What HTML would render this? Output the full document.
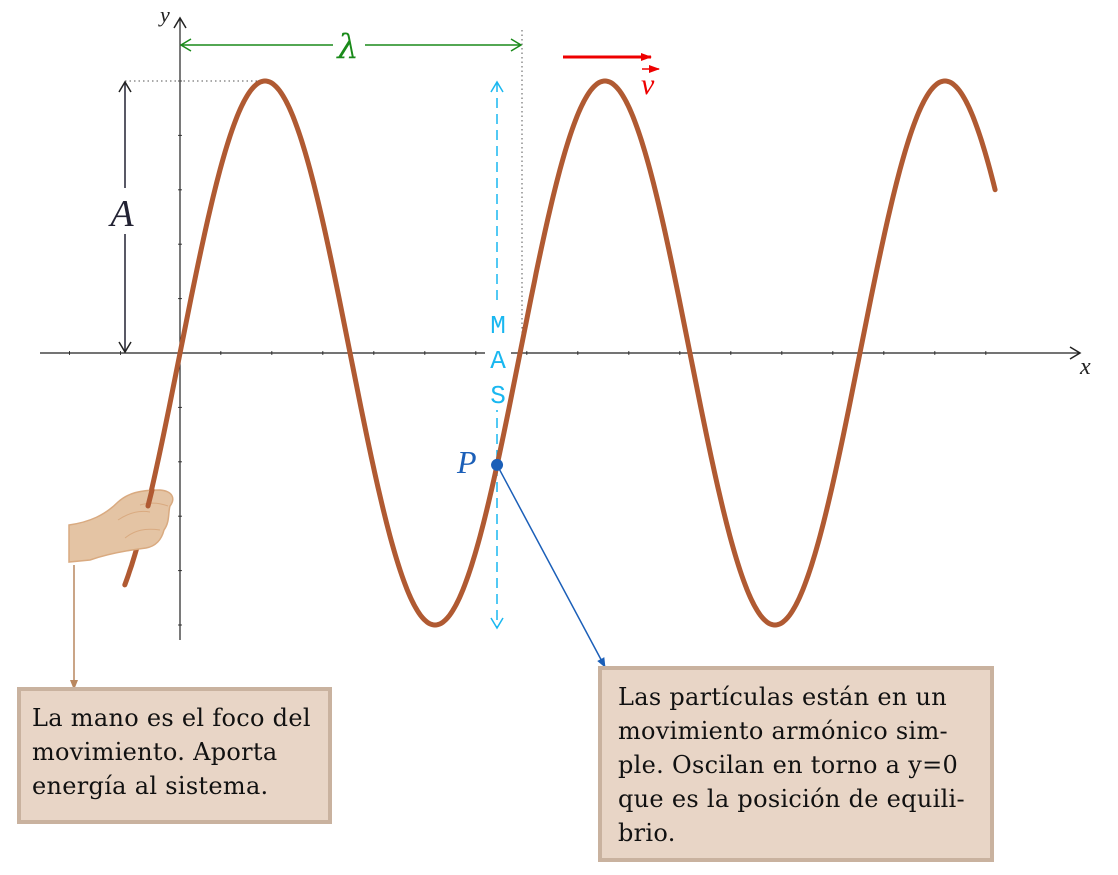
<!DOCTYPE html>
<html><head><meta charset="utf-8"><style>
body{margin:0;background:#fff;width:1118px;height:875px;overflow:hidden;position:relative}
.box{position:absolute;background:#e8d5c6;border:4px solid #c9b29f;box-sizing:border-box;font-family:"DejaVu Serif","Liberation Serif",serif;font-size:24px;letter-spacing:0.3px;line-height:34px;color:#111;padding:10px 11px;white-space:nowrap}
</style></head><body>
<svg width="1118" height="875" style="position:absolute;left:0;top:0">
<defs>
<marker id="ak" markerUnits="userSpaceOnUse" markerWidth="14" markerHeight="14" refX="12" refY="7" orient="auto-start-reverse"><path d="M2,1 L12,7 L2,13" fill="none" stroke="#222" stroke-width="1.5"/></marker>
<marker id="ag" markerUnits="userSpaceOnUse" markerWidth="14" markerHeight="14" refX="12" refY="7" orient="auto-start-reverse"><path d="M2,1 L12,7 L2,13" fill="none" stroke="#1a8a1a" stroke-width="1.5"/></marker>
<marker id="ac" markerUnits="userSpaceOnUse" markerWidth="14" markerHeight="14" refX="12" refY="7" orient="auto-start-reverse"><path d="M2,1 L12,7 L2,13" fill="none" stroke="#19b7f0" stroke-width="1.5"/></marker>
<marker id="ab" markerUnits="userSpaceOnUse" markerWidth="10" markerHeight="10" refX="9" refY="5" orient="auto"><path d="M0,1 L10,5 L0,9 z" fill="#1b5fb8"/></marker>
<marker id="abr" markerUnits="userSpaceOnUse" markerWidth="10" markerHeight="10" refX="9" refY="5" orient="auto"><path d="M0,1 L10,5 L0,9 z" fill="#b9875f"/></marker>
<marker id="ar" markerUnits="userSpaceOnUse" markerWidth="12" markerHeight="12" refX="10" refY="6" orient="auto"><path d="M0,2 L11,6 L0,10 z" fill="#e00"/></marker>
</defs>
<g id="ticks"></g>
<line x1="40" y1="353" x2="1080" y2="353" stroke="#222" stroke-width="1.2" marker-end="url(#ak)"/>
<line x1="180" y1="640" x2="180" y2="18" stroke="#222" stroke-width="1.2" marker-end="url(#ak)"/>
<text x="1080" y="374" font-family="Liberation Serif" font-style="italic" font-size="24" fill="#222">x</text>
<text x="160" y="22" font-family="Liberation Serif" font-style="italic" font-size="22" fill="#222">y</text>
<line x1="125" y1="81" x2="265" y2="81" stroke="#555" stroke-dasharray="1.5,3"/>
<line x1="522" y1="30" x2="522" y2="353" stroke="#555" stroke-dasharray="1.5,3"/>
<line x1="181" y1="45" x2="521" y2="45" stroke="#1a8a1a" stroke-width="1.5" marker-start="url(#ag)" marker-end="url(#ag)"/>
<rect x="333" y="28" width="32" height="34" fill="#fff"/>
<text x="348" y="58" text-anchor="middle" font-family="DejaVu Serif" font-style="italic" font-size="34" fill="#1a8a1a">λ</text>
<line x1="125" y1="82" x2="125" y2="352" stroke="#222233" stroke-width="1.5" marker-start="url(#ak)" marker-end="url(#ak)"/>
<rect x="105" y="188" width="40" height="46" fill="#fff"/>
<text x="122" y="226" text-anchor="middle" font-family="Liberation Serif" font-style="italic" font-size="38" fill="#222233">A</text>
<line x1="497" y1="82" x2="497" y2="628" stroke="#19b7f0" stroke-width="1.5" stroke-dasharray="10,6" marker-start="url(#ac)" marker-end="url(#ac)"/>
<rect x="485" y="305" width="26" height="105" fill="#fff"/>
<g font-family="Liberation Mono" font-size="26" fill="#19b7f0" text-anchor="middle"><text x="498" y="333">M</text><text x="498" y="368">A</text><text x="498" y="403">S</text></g>
<line x1="563" y1="57" x2="651" y2="57" stroke="#e00" stroke-width="3" marker-end="url(#ar)"/>
<text x="641" y="94" font-family="Liberation Serif" font-style="italic" font-size="30" fill="#e00">v</text>
<line x1="642" y1="69" x2="659" y2="69" stroke="#e00" stroke-width="1.5" marker-end="url(#ar)"/>
<path id="wave" fill="none" stroke="#b05a32" stroke-width="5" stroke-linecap="round"/>
<g>
<path d="M69,525 C90,522 105,515 118,502 C128,493 140,490 160,490 C172,491 176,498 170,506 C168,512 170,522 164,530 C162,538 157,546 146,548 C130,550 110,553 90,560 L69,562 Z" fill="#e4c4a4" stroke="#d9aa80" stroke-width="1.5"/>
<path d="M118,520 C130,512 140,510 150,512 M125,538 C135,530 145,528 160,530 M140,505 C150,502 160,503 168,506" fill="none" stroke="#d9aa80" stroke-width="1"/>
</g>
<path d="M152,490 L148,506" stroke="#b05a32" stroke-width="5" stroke-linecap="round" fill="none"/>
<line x1="74" y1="565" x2="74" y2="689" stroke="#b9875f" stroke-width="1.5" marker-end="url(#abr)"/>
<line id="pline" stroke="#1b5fb8" stroke-width="1.5" marker-end="url(#ab)"/>
<circle id="pdot" r="6" fill="#1b5fb8"/>
<text id="plabel" font-family="Liberation Serif" font-style="italic" font-size="32" fill="#1b5fb8">P</text>
</svg>
<div class="box" style="left:17px;top:687px;width:315px;height:137px">La mano es el foco del<br>movimiento. Aporta<br>energía al sistema.</div>
<div class="box" style="left:598px;top:666px;width:396px;height:196px;padding:10px 16px">Las partículas están en un<br>movimiento armónico sim-<br>ple. Oscilan en torno a y=0<br>que es la posición de equili-<br>brio.</div>
<script>
const amplitude=[1];
const wavelength=[4];
const xRange=[-0.65,9.6];
const particleX=[3.73];
const xTickVals=[-1.3,-0.7,0.48,1.08,1.68,2.28,2.88,3.48,4.08,4.68,5.28,5.88,6.48,7.08,7.68,8.28,8.88,9.48];
const yTickVals=[-1,-0.8,-0.6,-0.4,-0.2,0.2,0.4,0.6,0.8,1];
const X=v=>180+v*85, Y=v=>353-v*272;
const f=x=>amplitude[0]*Math.sin(2*Math.PI*x/wavelength[0]);
let d="";
for(let x=xRange[0];x<=xRange[1]+1e-9;x+=0.02){d+=(d?"L":"M")+X(x).toFixed(1)+","+Y(f(x)).toFixed(1);}
document.getElementById('wave').setAttribute('d',d);
const g=document.getElementById('ticks');
xTickVals.forEach(v=>{const l=document.createElementNS("http://www.w3.org/2000/svg","line");


l.setAttribute('x1',X(v));l.setAttribute('x2',X(v));l.setAttribute('y1',351);l.setAttribute('y2',355);l.setAttribute('stroke','#444');g.appendChild(l);});
yTickVals.forEach(v=>{const l=document.createElementNS("http://www.w3.org/2000/svg","line");


l.setAttribute('x1',178);l.setAttribute('x2',182);l.setAttribute('y1',Y(v));l.setAttribute('y2',Y(v));l.setAttribute('stroke','#444');g.appendChild(l);});
const px=X(particleX[0]),py=Y(f(particleX[0]));
const c=document.getElementById('pdot');c.setAttribute('cx',px);c.setAttribute('cy',py);
const t=document.getElementById('plabel');t.setAttribute('x',px-40);t.setAttribute('y',py+8);
const pl=document.getElementById('pline');pl.setAttribute('x1',px);pl.setAttribute('y1',py);pl.setAttribute('x2',605);pl.setAttribute('y2',667);
</script>
</body></html>
